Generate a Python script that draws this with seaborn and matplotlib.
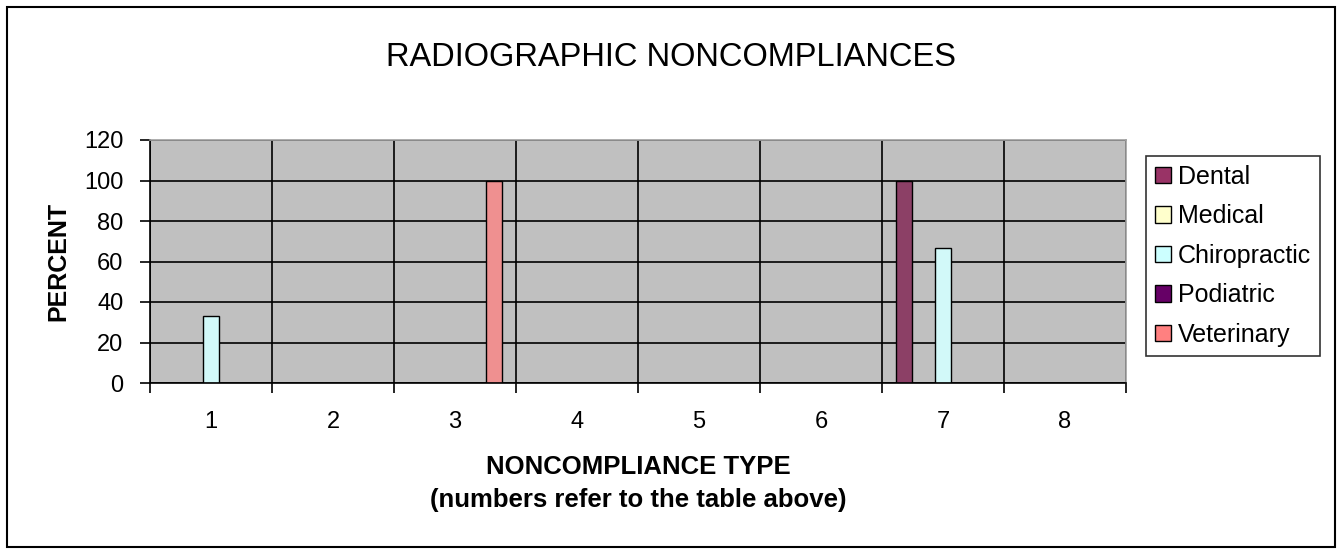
import matplotlib
matplotlib.use("Agg")
import matplotlib.pyplot as plt
from matplotlib.patches import Rectangle, Patch
from matplotlib.ticker import FixedLocator
import pandas as pd
import seaborn as sns

# данные с картинки
types = ["1", "2", "3", "4", "5", "6", "7", "8"]
series = ["Dental", "Medical", "Chiropractic", "Podiatric", "Veterinary"]
dental = [0, 0, 0, 0, 0, 0, 100, 0]
medical = [0, 0, 0, 0, 0, 0, 0, 0]
chiropractic = [33.3, 0, 0, 0, 0, 0, 66.7, 0]
podiatric = [0, 0, 0, 0, 0, 0, 0, 0]
veterinary = [0, 0, 100, 0, 0, 0, 0, 0]
colors = ["#993366", "#FFFFCC", "#CCFFFF", "#660066", "#FF8080"]
y_ticks = [0, 20, 40, 60, 80, 100, 120]

values = [dental, medical, chiropractic, podiatric, veterinary]
rows = []
for name, vals in zip(series, values):
    for t, v in zip(types, vals):
        rows.append({"type": t, "series": name, "percent": v})
df = pd.DataFrame(rows)

sns.set_theme(style="white")
plt.rcParams["font.family"] = ["Liberation Sans", "DejaVu Sans"]
plt.rcParams["text.color"] = "black"
plt.rcParams["axes.labelcolor"] = "black"

fig = plt.figure(figsize=(13.42, 5.52), dpi=100)
ax = fig.add_axes([150 / 1342, 1 - 383 / 552, 976 / 1342, 243 / 552])

sns.barplot(
    data=df, x="type", y="percent", hue="series",
    order=types, hue_order=series, palette=dict(zip(series, colors)),
    width=0.79, gap=0.17, edgecolor="black", linewidth=1,
    errorbar=None, ax=ax, legend=False,
)

ax.set_facecolor("#C0C0C0")
ax.set_xlim(-0.5, len(types) - 0.5)
ax.set_ylim(0, 120)
ax.set_yticks(y_ticks)
ax.yaxis.grid(True, color="black", linewidth=1.2)
ax.set_axisbelow(True)

# вертикальные линии по границам категорий
bounds = [i - 0.5 for i in range(len(types) + 1)]
ax.xaxis.set_minor_locator(FixedLocator(bounds))
ax.xaxis.grid(True, which="minor", color="black", linewidth=1.2)
ax.tick_params(axis="x", which="major", length=0, pad=20, labelsize=17, colors="black")
ax.tick_params(axis="x", which="minor", length=7, width=1.2, direction="out", color="black", bottom=True)
ax.tick_params(axis="y", length=7, width=1.2, direction="out", pad=12, labelsize=17, colors="black", left=True)

for side in ["left", "bottom"]:
    ax.spines[side].set_color("black")
    ax.spines[side].set_linewidth(1.2)
for side in ["top", "right"]:
    ax.spines[side].set_color("#A0A0A0")
    ax.spines[side].set_linewidth(1.2)

ax.set_ylabel("PERCENT", fontsize=18, fontweight="bold", labelpad=10)
ax.set_xlabel("NONCOMPLIANCE TYPE\n(numbers refer to the table above)",
              fontsize=18.5, fontweight="bold", labelpad=16, linespacing=1.45)

fig.text(0.5, 1 - 58 / 552, "RADIOGRAPHIC NONCOMPLIANCES", ha="center", va="center", fontsize=23.5)

handles = [Patch(facecolor=c, edgecolor="black", linewidth=1) for c in colors]
leg = ax.legend(handles, series, loc="center left", bbox_to_anchor=(1.021, 0.523),
                fontsize=18, frameon=True, fancybox=False, handlelength=0.64, handleheight=0.64,
                handletextpad=0.28, labelspacing=0.62, borderpad=0.35, borderaxespad=0)
leg.get_frame().set_edgecolor("black")
leg.get_frame().set_linewidth(1.2)

fig.patches.append(Rectangle((7 / 1342, 5 / 552), 1328 / 1342, 540 / 552, transform=fig.transFigure,
                             fill=False, edgecolor="black", linewidth=1.5))

fig.savefig("out.png", dpi=100)
